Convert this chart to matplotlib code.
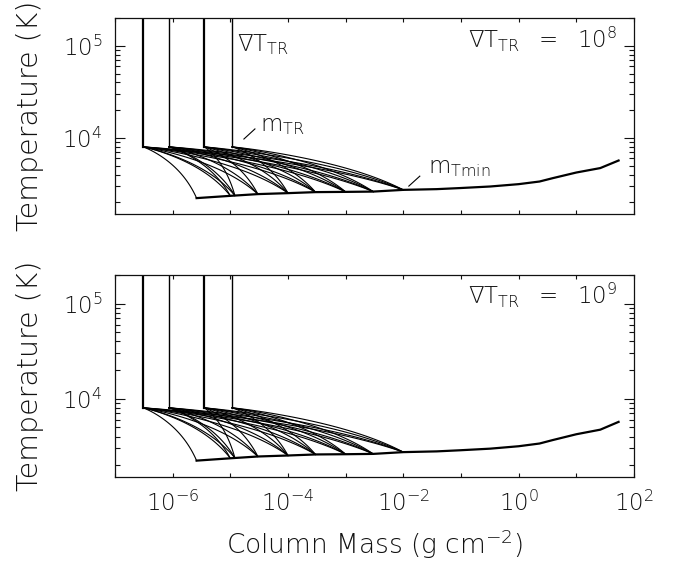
import numpy as np
import matplotlib
matplotlib.use('Agg')
import matplotlib.pyplot as plt
from matplotlib.ticker import LogLocator, NullFormatter, FuncFormatter

plt.rcParams['font.family'] = ['DejaVu Sans']
plt.rcParams['font.weight'] = 'ultralight'
plt.rcParams['mathtext.fontset'] = 'custom'
plt.rcParams['mathtext.rm'] = 'DejaVu Sans:ultralight'
plt.rcParams['mathtext.it'] = 'DejaVu Sans:ultralight'

# column mass of the top of the chromosphere (m_TR), g cm^-2
m_tr = [3.05e-7, 8.6e-7, 3.5e-6, 1.07e-5]
T_tr = 8000.0
# column mass of the temperature minimum (m_Tmin)
m_tmin = [2.6e-6, 1.0e-5, 1.2e-5, 3.0e-5, 1.0e-4, 3.0e-4, 1.0e-3, 3.0e-3, 1.0e-2]
# smallest m_Tmin used with each m_TR
first_tmin = [2.6e-6, 1.0e-5, 1.2e-5, 1.0e-4]

# common lower chromosphere / photosphere
base_m = [2.6e-6, 1.0e-5, 3.0e-5, 1.0e-4, 3.0e-4, 1.0e-3, 3.0e-3, 1.0e-2, 3.8e-2,
          9.5e-2, 0.32, 1.0, 2.3, 3.9, 5.1, 10.0, 26.0, 54.0]
base_T = [2230, 2360, 2465, 2525, 2590, 2605, 2625, 2740, 2790,
          2865, 2980, 3160, 3375, 3670, 3820, 4225, 4720, 5700]

panels = ['8', '9']

fig = plt.figure(figsize=(6.8, 5.63), dpi=100)
ax1 = fig.add_axes([115/680, 1-214/563, 519/680, 196/563])
ax2 = fig.add_axes([115/680, 1-477/563, 519/680, 202/563])

lbase_m = np.log10(base_m)
lbase_T = np.log10(base_T)
q = 1.15
tr_lw = [1.6, 1.0, 1.6, 1.0]
tc = '#111111'

for ax, grad in zip([ax1, ax2], panels):
    for i, m0 in enumerate(m_tr):
        ax.plot([m0, m0], [T_tr, 1e6], color='k', lw=tr_lw[i])
        for m1 in m_tmin:
            if m1 < first_tmin[i]:
                continue
            T1 = 10 ** np.interp(np.log10(m1), lbase_m, lbase_T)
            s = np.linspace(0, 1, 80)
            m = 10 ** (np.log10(m0) + s * (np.log10(m1) - np.log10(m0)))
            T = T_tr - (T_tr - T1) * s ** q
            ax.plot(m, T, color='k', lw=0.8)
    ax.plot(base_m, base_T, color='k', lw=1.6)

    ax.set_xscale('log')
    ax.set_yscale('log')
    ax.set_xlim(1e-7, 1e2)
    ax.set_ylim(1500, 2.0e5)

    ax.xaxis.set_major_locator(LogLocator(base=10, numticks=20))
    ax.xaxis.set_minor_locator(LogLocator(base=10, subs=[], numticks=20))
    ax.xaxis.set_major_formatter(FuncFormatter(
        lambda v, pos: r'$10^{%d}$' % round(np.log10(v)) if round(np.log10(v)) % 2 == 0 else ''))
    ax.yaxis.set_major_formatter(FuncFormatter(
        lambda v, pos: r'$10^{%d}$' % round(np.log10(v))))
    ax.yaxis.set_minor_formatter(NullFormatter())
    ax.tick_params(axis='both', which='both', direction='in', top=True, right=True,
                   labelsize=16.5, colors=tc, width=0.8)
    ax.tick_params(axis='y', which='major', length=7.5, pad=9)
    ax.tick_params(axis='y', which='minor', length=3.8)
    ax.tick_params(axis='x', which='major', length=3, pad=10)
    for s in ax.spines.values():
        s.set_linewidth(0.9)
        s.set_color(tc)

    ax.set_ylabel('Temperature (K)', fontsize=20.5, color=tc, labelpad=13,
                  fontweight='ultralight')
    ax.text(0.967, 0.89 if grad == '8' else 0.9,
            r'$\nabla\mathrm{T}_{\mathrm{TR}}\ \ =\ \ 10^{%s}$' % grad,
            transform=ax.transAxes, ha='right', va='center', fontsize=16.5, color=tc)

ax1.set_xticklabels([])
ax2.set_xlabel('Column Mass (g cm$^{-2}$)', fontsize=19, color=tc, labelpad=8,
               fontweight='ultralight')

ax1.text(1.3e-5, 1.03e5, r'$\nabla\mathrm{T}_{\mathrm{TR}}$', ha='left', va='center',
         fontsize=16.5, color=tc)
ax1.plot([1.72e-5, 2.67e-5], [9750, 12540], color='k', lw=0.8)
ax1.text(3.3e-5, 1.38e4, r'$\mathrm{m}_{\mathrm{TR}}$', ha='left', va='center',
         fontsize=16.5, color=tc)
ax1.plot([1.245e-2, 1.93e-2], [3010, 3860], color='k', lw=0.8)
ax1.text(0.0266, 4840, r'$\mathrm{m}_{\mathrm{Tmin}}$', ha='left', va='center',
         fontsize=16.5, color=tc)

fig.savefig('out.png', dpi=100)
